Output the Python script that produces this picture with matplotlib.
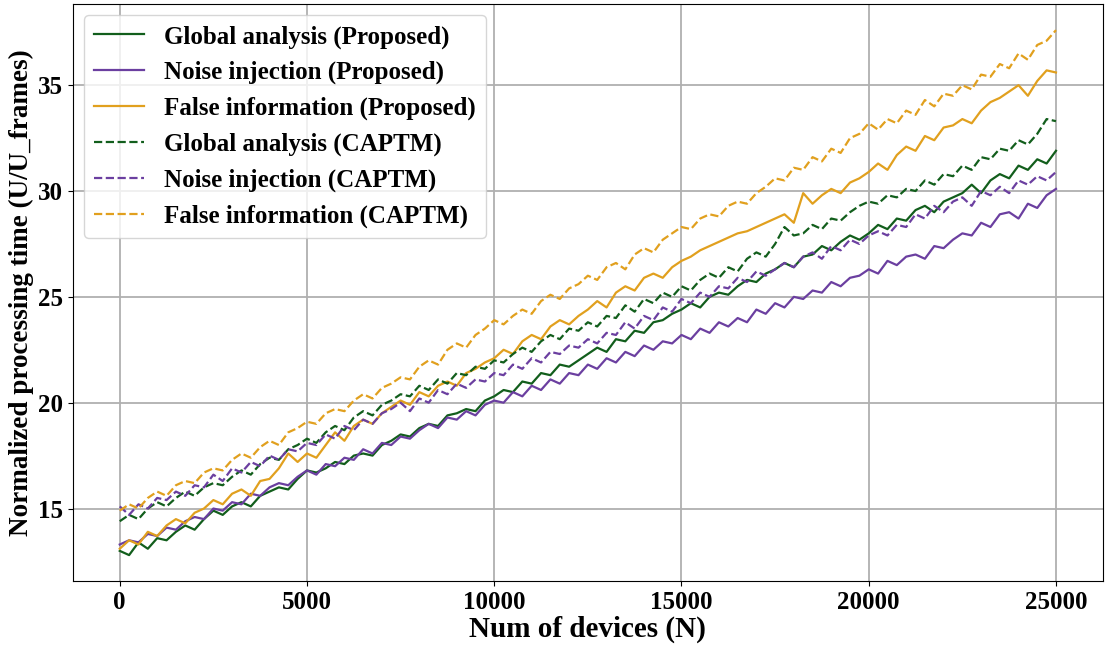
import numpy as np
import matplotlib
matplotlib.use("Agg")
import matplotlib.pyplot as plt

plt.rcParams['font.family'] = ['Liberation Serif', 'DejaVu Serif']
plt.rcParams['font.weight'] = 'bold'

# number of devices (step 250)
devices = np.arange(0, 25001, 250)

# values
global_proposed = [
    13.0, 12.8, 13.4, 13.1, 13.6, 13.5, 13.9, 14.2, 14.0, 14.5, 14.9,
    14.7, 15.1, 15.3, 15.1, 15.6, 15.8, 16.0, 15.9, 16.4, 16.8,
    16.7, 16.9, 17.2, 17.1, 17.5, 17.6, 17.5, 18.0, 18.2, 18.5,
    18.4, 18.8, 19.0, 18.9, 19.4, 19.5, 19.7, 19.6, 20.1, 20.3,
    20.6, 20.5, 21.0, 20.9, 21.4, 21.3, 21.8, 21.7, 22.0, 22.3,
    22.6, 22.4, 23.0, 22.9, 23.4, 23.3, 23.8, 23.9, 24.2, 24.4,
    24.7, 24.5, 25.0, 25.2, 25.1, 25.5, 25.8, 25.7, 26.1, 26.3,
    26.6, 26.4, 26.9, 27.0, 27.4, 27.2, 27.6, 27.9, 27.7, 28.0,
    28.4, 28.2, 28.7, 28.6, 29.1, 29.3, 29.0, 29.5, 29.7, 29.9,
    30.3, 29.9, 30.5, 30.8, 30.6, 31.2, 31.0, 31.5, 31.3, 31.9]

noise_proposed = [
    13.3, 13.5, 13.4, 13.8, 13.7, 14.1, 14.0, 14.4, 14.6, 14.5, 15.0,
    14.9, 15.3, 15.2, 15.7, 15.6, 16.0, 16.2, 16.1, 16.5, 16.8,
    16.6, 17.1, 17.0, 17.4, 17.3, 17.8, 17.6, 18.1, 18.0, 18.4,
    18.3, 18.7, 19.0, 18.8, 19.3, 19.2, 19.6, 19.4, 19.9, 20.1,
    20.0, 20.5, 20.3, 20.8, 20.6, 21.1, 20.9, 21.4, 21.3, 21.8,
    21.6, 22.1, 21.9, 22.4, 22.2, 22.7, 22.5, 22.9, 22.8, 23.2,
    23.0, 23.5, 23.3, 23.8, 23.6, 24.0, 23.8, 24.4, 24.2, 24.7,
    24.5, 25.0, 24.9, 25.3, 25.2, 25.7, 25.5, 25.9, 26.0, 26.3,
    26.1, 26.7, 26.5, 26.9, 27.0, 26.8, 27.4, 27.3, 27.7, 28.0,
    27.9, 28.5, 28.3, 28.9, 29.0, 28.7, 29.4, 29.2, 29.8, 30.1]

false_proposed = [
    13.1, 13.5, 13.3, 13.9, 13.7, 14.2, 14.5, 14.3, 14.8, 15.0, 15.4,
    15.2, 15.7, 15.9, 15.6, 16.3, 16.4, 16.9, 17.6, 17.2, 17.6,
    17.4, 18.0, 18.6, 18.2, 18.9, 19.2, 19.0, 19.5, 19.8, 20.1,
    19.9, 20.5, 20.3, 20.8, 21.0, 20.8, 21.4, 21.6, 21.9, 22.1,
    22.5, 22.3, 22.9, 23.2, 23.0, 23.6, 23.9, 23.7, 24.1, 24.4,
    24.8, 24.5, 25.2, 25.5, 25.3, 25.9, 26.1, 25.9, 26.4, 26.7,
    26.9, 27.2, 27.4, 27.6, 27.8, 28.0, 28.1, 28.3, 28.5, 28.7,
    28.9, 28.5, 29.9, 29.4, 29.8, 30.1, 29.9, 30.4, 30.6, 30.9,
    31.3, 31.0, 31.7, 32.1, 31.9, 32.6, 32.4, 33.0, 33.1, 33.4,
    33.2, 33.8, 34.2, 34.4, 34.7, 35.0, 34.5, 35.2, 35.7, 35.6]

global_captm = [
    14.4, 14.7, 14.5, 15.0, 15.3, 15.1, 15.5, 15.8, 15.6, 16.0, 16.2,
    16.1, 16.5, 16.8, 16.6, 17.1, 17.4, 17.3, 17.8, 18.0, 18.3,
    18.1, 18.6, 18.9, 18.7, 19.3, 19.6, 19.4, 19.9, 20.1, 20.4,
    20.3, 20.8, 20.6, 21.1, 20.9, 21.4, 21.3, 21.7, 21.6, 22.0,
    21.9, 22.3, 22.6, 22.4, 22.9, 23.2, 23.0, 23.5, 23.4, 23.8,
    23.6, 24.1, 24.0, 24.6, 24.3, 24.9, 24.7, 25.2, 25.0, 25.5,
    25.3, 25.8, 26.1, 25.9, 26.4, 26.2, 26.8, 27.1, 26.9, 27.5,
    28.3, 27.9, 28.0, 28.4, 28.2, 28.7, 28.6, 29.0, 29.3, 29.5,
    29.4, 29.8, 29.7, 30.1, 30.0, 30.5, 30.3, 30.8, 30.7, 31.2,
    31.0, 31.6, 31.5, 32.0, 31.9, 32.4, 32.2, 32.7, 33.4, 33.3]

noise_captm = [
    15.1, 14.7, 15.2, 15.0, 15.5, 15.4, 15.8, 15.6, 16.1, 16.0, 16.6,
    16.3, 16.9, 16.7, 17.2, 17.0, 17.5, 17.3, 17.8, 17.7, 18.1,
    18.0, 18.5, 18.3, 18.9, 18.7, 19.2, 19.0, 19.5, 19.7, 20.0,
    19.6, 20.2, 20.0, 20.6, 20.4, 20.9, 20.7, 21.1, 21.0, 21.4,
    21.3, 21.8, 21.6, 22.1, 21.9, 22.4, 22.3, 22.7, 22.6, 23.0,
    22.8, 23.3, 23.2, 23.8, 23.5, 24.1, 23.9, 24.5, 24.3, 24.9,
    24.7, 25.2, 25.0, 25.5, 25.4, 25.9, 25.7, 26.2, 26.0, 26.3,
    26.6, 26.4, 26.9, 27.1, 26.8, 27.4, 27.2, 27.7, 27.5, 27.9,
    28.1, 27.9, 28.4, 28.3, 28.9, 28.7, 29.3, 29.0, 29.5, 29.7,
    29.3, 30.0, 29.8, 30.2, 29.9, 30.5, 30.3, 30.7, 30.5, 30.9]

false_captm = [
    14.9, 15.2, 15.0, 15.5, 15.8, 15.6, 16.1, 16.3, 16.2, 16.7, 16.9,
    16.8, 17.3, 17.6, 17.4, 17.9, 18.2, 18.0, 18.6, 18.8, 19.1,
    19.0, 19.5, 19.7, 19.6, 20.1, 20.4, 20.2, 20.7, 20.9, 21.2,
    21.1, 21.7, 22.0, 21.8, 22.5, 22.8, 22.6, 23.2, 23.5, 23.9,
    23.7, 24.1, 24.4, 24.2, 24.8, 25.1, 24.9, 25.4, 25.6, 26.0,
    25.8, 26.4, 26.6, 26.3, 27.0, 27.3, 27.1, 27.7, 28.0, 28.3,
    28.2, 28.7, 28.9, 28.8, 29.3, 29.5, 29.4, 29.9, 30.2, 30.6,
    30.5, 31.1, 31.0, 31.6, 31.4, 32.0, 31.8, 32.5, 32.7, 33.2,
    32.9, 33.4, 33.2, 33.8, 33.6, 34.3, 34.0, 34.6, 34.5, 35.0,
    34.8, 35.5, 35.4, 36.0, 35.8, 36.5, 36.2, 36.9, 37.1, 37.6]

green = "#125e1c"
purple = "#6b3fa0"
orange = "#e1a01e"

fig = plt.figure(figsize=(11.05, 6.51), dpi=100)
ax = fig.add_axes([0.066, 0.107, 0.932, 0.887])

ax.plot(devices, global_proposed, color=green, lw=1.6, label="Global analysis (Proposed)")
ax.plot(devices, noise_proposed, color=purple, lw=1.6, label="Noise injection (Proposed)")
ax.plot(devices, false_proposed, color=orange, lw=1.6, label="False information (Proposed)")
ax.plot(devices, global_captm, color=green, lw=1.6, ls="--", label="Global analysis (CAPTM)")
ax.plot(devices, noise_captm, color=purple, lw=1.6, ls="--", label="Noise injection (CAPTM)")
ax.plot(devices, false_captm, color=orange, lw=1.6, ls="--", label="False information (CAPTM)")

ax.grid(True, color="#b0b0b0", lw=1.3)
ax.set_axisbelow(True)
ax.set_xlabel("Num of devices (N)", fontsize=21, fontweight="bold", labelpad=1)
ax.set_ylabel("Normalized processing time (U/U_frames)", fontsize=19.5, fontweight="bold", labelpad=3)
ax.tick_params(labelsize=18)
for lab in ax.get_xticklabels() + ax.get_yticklabels():
    lab.set_fontweight("bold")

leg = ax.legend(loc="upper left", fontsize=18, handlelength=2.0, borderaxespad=0.45)
for t in leg.get_texts():
    t.set_fontweight("bold")

fig.savefig("out.png", dpi=100)
